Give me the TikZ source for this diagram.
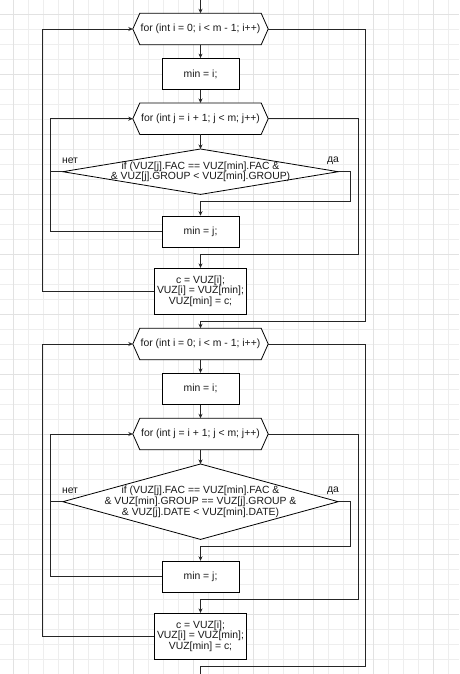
\documentclass[tikz,border=0pt]{standalone}
\usepackage{fontspec}
\setmainfont{Liberation Sans}
\usetikzlibrary{arrows.meta,calc}
\pgfdeclarelayer{gridlayer}
\pgfdeclarelayer{shapelayer}
\pgfsetlayers{gridlayer,shapelayer,main}
\definecolor{gridminor}{RGB}{238,238,238}
\definecolor{gridmajor}{RGB}{226,226,226}
\newcommand{\hexdraw}[1]{%
  \begin{pgfonlayer}{shapelayer}
  \draw[shp] ([xshift=7pt]#1.north west) -- ([xshift=-7pt]#1.north east) -- (#1.east)
    -- ([xshift=-7pt]#1.south east) -- ([xshift=7pt]#1.south west) -- (#1.west) -- cycle;
  \end{pgfonlayer}}
\newcommand{\dmddraw}[1]{%
  \begin{pgfonlayer}{shapelayer}
  \draw[shp] (#1.north) -- (#1.east) -- (#1.south) -- (#1.west) -- cycle;
  \end{pgfonlayer}}
\begin{document}
\begin{tikzpicture}[x=1pt,y=-1pt,
  every node/.style={font=\fontsize{10.4}{10.7}\selectfont, inner sep=0pt, text=black!90},
  shp/.style={draw=black, fill=white, line width=0.8pt},
  blk/.style={shp, minimum width=77pt, minimum height=31pt, align=center},
  hexn/.style={minimum width=135pt, minimum height=31pt},
  dmd/.style={minimum width=275pt, align=center},
  ln/.style={line width=0.8pt, draw=black!85},
  arr/.style={ln, -{Stealth[length=4.5pt,width=4pt]}}
]
\useasboundingbox (0,0) rectangle (459,674);
\begin{pgfonlayer}{gridlayer}
  \fill[white] (0,0) rectangle (459,674);
  \foreach \i in {0,...,30} {\draw[gridminor, line width=1pt] ({13.3+15*\i},0) -- ++(0,674);}
  \foreach \i in {0,...,44} {\draw[gridminor, line width=1pt] (0,{14.3+15*\i}) -- ++(459,0);}
  \foreach \i in {0,...,7} {\draw[gridmajor, line width=1pt] ({13.3+60*\i},0) -- ++(0,674);}
  \foreach \i in {0,...,11} {\draw[gridmajor, line width=1pt] (0,{14.3+60*\i}) -- ++(459,0);}
\end{pgfonlayer}

% ---------- first block ----------
\node[hexn] (f1) at (200.5,29) {for (int i = 0; i < m - 1; i++)};
\hexdraw{f1}
\node[blk] (mi1) at (200.5,74) {min = i;};
\node[hexn] (g1) at (200.5,118.7) {for (int j = i + 1; j < m; j++)};
\hexdraw{g1}
\node[dmd, minimum height=45pt] (d1) at (200.5,171.7)
  {if (VUZ[j].FAC == VUZ[min].FAC \&\\\& VUZ[j].GROUP < VUZ[min].GROUP)};
\dmddraw{d1}
\node (no1) at (70,160.7) {нет};
\node (yes1) at (333,160.7) {да};
\node[blk] (mj1) at (200.5,231.6) {min = j;};
\node[blk, minimum width=92pt, minimum height=46pt] (c1) at (200.5,291.3)
  {c = VUZ[i];\\VUZ[i] = VUZ[min];\\VUZ[min] = c;};

% ---------- second block ----------
\node[hexn] (f2) at (200.5,344) {for (int i = 0; i < m - 1; i++)};
\hexdraw{f2}
\node[blk] (mi2) at (200.5,388.8) {min = i;};
\node[hexn] (g2) at (200.5,434) {for (int j = i + 1; j < m; j++)};
\hexdraw{g2}
\node[dmd, minimum height=75pt] (d2) at (200.5,501.7)
  {if (VUZ[j].FAC == VUZ[min].FAC \&\\\& VUZ[min].GROUP == VUZ[j].GROUP \&\\\& VUZ[j].DATE < VUZ[min].DATE)};
\dmddraw{d2}
\node (no2) at (70,490.7) {нет};
\node (yes2) at (333,490.7) {да};
\node[blk] (mj2) at (200.5,576.7) {min = j;};
\node[blk, minimum width=92pt, minimum height=46pt] (c2) at (200.5,636.3)
  {c = VUZ[i];\\VUZ[i] = VUZ[min];\\VUZ[min] = c;};

% ---------- connectors, first block ----------
\coordinate (start) at (200.5,0);
\draw[arr] (start) -- (f1.north);
\draw[arr] (f1.south) -- (mi1.north);
\draw[arr] (mi1.south) -- (g1.north);
\draw[arr] (g1.south) -- (d1.north);
\draw[arr] (d1.east) -- ++(12.5,0) -- ++(0,30) -| (mj1.north);
\draw[ln] (d1.west) -- ++(-12.6,0);
\draw[arr] (mj1.west) -- ++(-111.3,0) |- (g1.west);
\draw[arr] (g1.east) -- ++(90,0) -- ++(0,135.3) -| (c1.north);
\draw[arr] (c1.west) -- ++(-111.5,0) |- (f1.west);
\draw[arr] (f1.east) -- ++(97,0) -- ++(0,292) -| (f2.north);

% ---------- connectors, second block ----------
\coordinate (finish) at (200.5,676);
\draw[arr] (f2.south) -- (mi2.north);
\draw[arr] (mi2.south) -- (g2.north);
\draw[arr] (g2.south) -- (d2.north);
\draw[arr] (d2.east) -- ++(12.5,0) -- ++(0,45) -| (mj2.north);
\draw[ln] (d2.west) -- ++(-12.6,0);
\draw[arr] (mj2.west) -- ++(-111.3,0) |- (g2.west);
\draw[arr] (g2.east) -- ++(90,0) -- ++(0,165) -| (c2.north);
\draw[arr] (c2.west) -- ++(-111.5,0) |- (f2.west);
\draw[ln] (f2.east) -- ++(97,0) -- ++(0,322.7) -| (finish);
\end{tikzpicture}
\end{document}
